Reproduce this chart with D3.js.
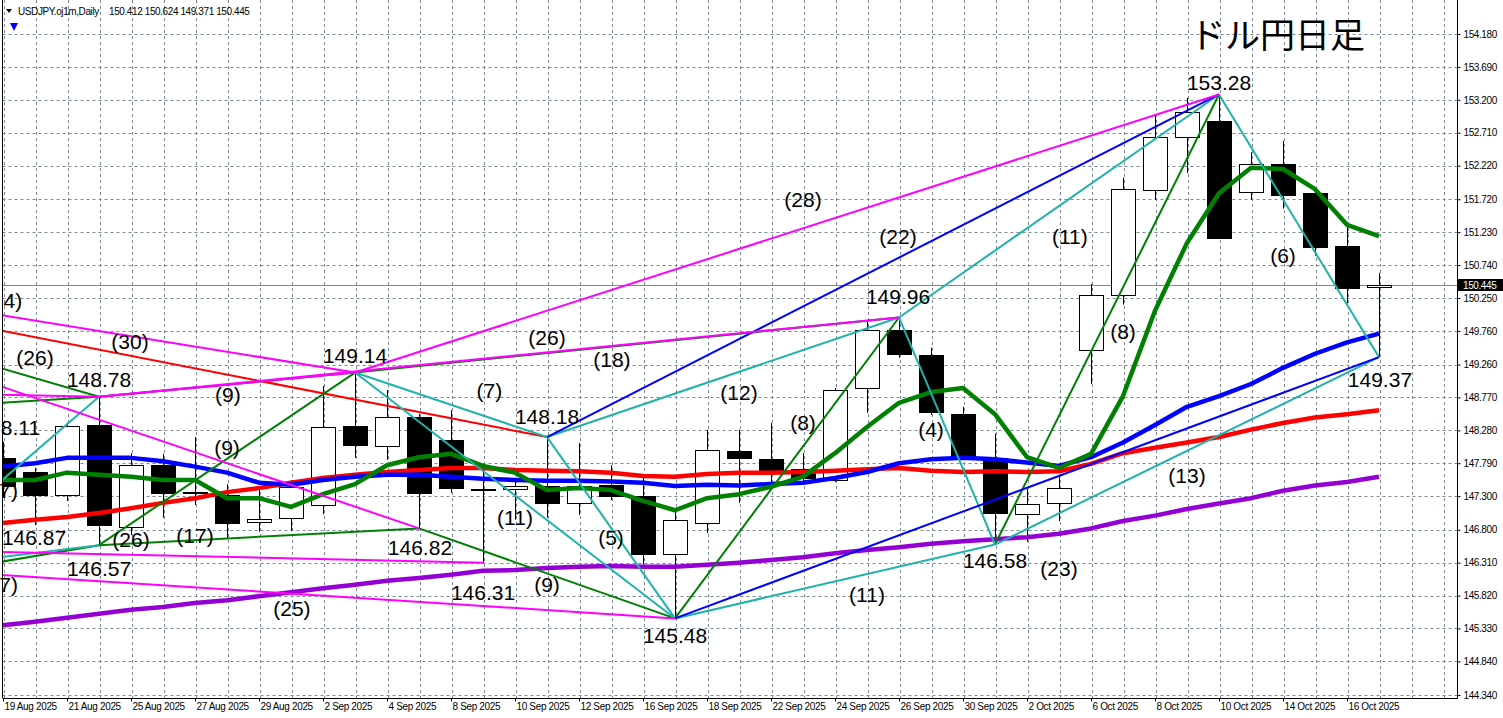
<!DOCTYPE html>
<html><head><meta charset="utf-8">
<script src="https://cdn.jsdelivr.net/npm/d3@7"></script>
<style>
html,body{margin:0;padding:0;background:#fff;overflow:hidden;}
svg{display:block;}
</style></head><body>
<svg id="c" width="1503" height="718"></svg>
<script>
// ---------- DATA ----------
const dates = ["19 Aug 2025","20 Aug 2025","21 Aug 2025","22 Aug 2025","25 Aug 2025","26 Aug 2025","27 Aug 2025","28 Aug 2025","29 Aug 2025",
"1 Sep 2025","2 Sep 2025","3 Sep 2025","4 Sep 2025","5 Sep 2025","8 Sep 2025","9 Sep 2025","10 Sep 2025","11 Sep 2025","12 Sep 2025",
"15 Sep 2025","16 Sep 2025","17 Sep 2025","18 Sep 2025","19 Sep 2025","22 Sep 2025","23 Sep 2025","24 Sep 2025","25 Sep 2025","26 Sep 2025",
"29 Sep 2025","30 Sep 2025","1 Oct 2025","2 Oct 2025","3 Oct 2025","6 Oct 2025","7 Oct 2025","8 Oct 2025","9 Oct 2025","10 Oct 2025",
"13 Oct 2025","14 Oct 2025","15 Oct 2025","16 Oct 2025","17 Oct 2025"];
const openP  = [147.87,147.66,147.32,148.36,146.83,147.76,147.35,147.32,146.92,146.98,147.17,148.34,148.05,148.48,148.14,147.41,147.41,147.45,147.20,147.47,147.30,146.44,146.90,147.97,147.85,147.70,147.54,148.90,149.77,149.40,148.52,147.87,147.04,147.19,149.48,150.30,151.86,152.65,152.89,151.83,152.25,151.82,151.03,150.412];
const highP  = [148.11,147.72,148.40,148.78,147.94,147.93,148.18,147.48,147.41,147.54,148.94,149.14,148.88,148.52,148.58,147.69,147.57,148.18,148.09,147.76,147.57,147.06,148.29,148.29,148.39,147.94,148.91,149.92,149.96,149.51,148.63,148.23,147.41,147.59,150.46,152.04,152.96,153.23,153.28,152.42,152.59,151.86,151.31,150.624];
const lowP   = [147.30,146.87,147.23,146.57,146.72,146.98,147.17,146.66,146.77,146.78,147.03,147.87,147.84,146.82,147.35,146.31,146.95,146.98,147.02,147.24,146.28,145.48,146.75,147.20,147.50,147.47,147.51,148.54,149.36,148.51,147.84,146.58,146.62,146.93,148.97,150.15,151.71,152.11,151.13,151.71,151.58,150.88,150.17,149.371];
const closeP = [147.45,147.32,148.34,146.87,147.76,147.35,147.36,146.90,146.96,147.44,148.33,148.05,148.48,147.35,147.42,147.40,147.45,147.20,147.45,147.30,146.44,146.95,147.99,147.87,147.69,147.57,148.88,149.77,149.42,148.55,147.88,147.05,147.19,147.42,150.30,151.88,152.65,153.02,151.15,152.25,151.79,151.02,150.40,150.445];

const maGreen  = [147.54,147.54,147.65,147.62,147.59,147.54,147.54,147.27,147.27,147.14,147.33,147.48,147.76,147.88,147.93,147.75,147.65,147.39,147.42,147.39,147.23,147.09,147.27,147.33,147.44,147.59,147.94,148.33,148.69,148.85,148.91,148.52,147.88,147.72,147.93,148.79,150.06,151.07,151.81,152.19,152.17,151.87,151.34,151.17];
const maBlue   = [147.74,147.79,147.87,147.87,147.87,147.82,147.74,147.65,147.50,147.47,147.54,147.59,147.62,147.62,147.59,147.56,147.54,147.53,147.53,147.52,147.50,147.45,147.47,147.46,147.48,147.50,147.57,147.66,147.79,147.85,147.87,147.85,147.80,147.75,147.88,148.10,148.36,148.63,148.79,148.97,149.21,149.42,149.59,149.72];
const maRed    = [146.90,146.95,146.99,147.05,147.12,147.20,147.27,147.36,147.42,147.50,147.57,147.62,147.66,147.69,147.72,147.72,147.69,147.68,147.67,147.65,147.60,147.59,147.63,147.65,147.65,147.66,147.68,147.70,147.72,147.68,147.66,147.67,147.66,147.67,147.78,147.94,148.02,148.10,148.18,148.29,148.39,148.47,148.52,148.58];
const maPurple = [145.38,145.43,145.49,145.55,145.61,145.65,145.71,145.75,145.81,145.87,145.93,145.98,146.04,146.08,146.13,146.19,146.20,146.23,146.25,146.26,146.25,146.25,146.28,146.31,146.35,146.39,146.45,146.50,146.54,146.59,146.63,146.66,146.69,146.74,146.82,146.93,147.01,147.11,147.19,147.27,147.38,147.46,147.51,147.59];

const priceTicks = [154.18,153.69,153.20,152.71,152.22,151.72,151.23,150.74,150.25,149.76,149.26,148.77,148.28,147.79,147.30,146.80,146.31,145.82,145.33,144.84,144.34];
const dateTickBars = [0,2,4,6,8,10,12,14,16,18,20,22,24,26,28,30,32,34,36,38,40,42];
const lastPrice = 150.445;
const headerSymbol = "USDJPY.oj1m,Daily";
const headerValues = "150.412 150.624 149.371 150.445";
const titleText = "ドル円日足";

// trend lines: [bar1, price1, bar2, price2]
const redLines = [[-0.1,149.77,17,148.18]];
const greenLines = [[-0.1,149.21,3,148.78],[-0.1,148.69,3,148.78],[-0.1,146.32,3,146.57],[3,148.78,11,149.14],[3,146.57,11,149.14],[3,146.57,13,146.82],[11,149.14,28,149.96],[13,146.82,21,145.48],[21,145.48,28,149.96],[31,146.58,38,153.28]];
const cyanLines = [[-0.1,147.51,3,148.78],[-0.1,146.39,3,146.57],[11,149.14,17,148.18],[11,149.14,21,145.48],[17,148.18,21,145.48],[17,148.18,28,149.96],[28,149.96,38,153.28],[28,149.96,31,146.58],[21,145.48,31,146.58],[31,146.58,43,149.37],[38,153.28,43,149.37]];
const blueLines = [[17,148.18,38,153.28],[21,145.48,43,149.37]];
const magentaLines = [[-0.1,150.00,11,149.14],[-0.1,148.94,13,146.82],[-0.1,148.81,3,148.78],[-0.1,146.47,15,146.31],[-0.1,146.13,21,145.48],[3,148.78,11,149.14],[3,148.78,28,149.96],[11,149.14,38,153.28]];

// annotation labels: [bar, price, text]
const annotations = [
 [1.0,149.36,"(26)"],[3.97,149.595,"(30)"],[3.0,149.03,"148.78"],
 [7.03,148.81,"(9)"],[11.0,149.40,"149.14"],[7.0,148.03,"(9)"],[0.97,146.68,"146.87"],
 [4.0,146.65,"(26)"],[6.0,146.71,"(17)"],[3.0,146.23,"146.57"],[9.03,145.635,"(25)"],
 [13.03,146.53,"146.82"],[15.0,145.86,"146.31"],[15.2,148.88,"(7)"],[17.0,148.48,"148.18"],[17.0,149.655,"(26)"],
 [19.03,149.33,"(18)"],[16.0,146.975,"(11)"],[19.0,146.68,"(5)"],[17.0,145.98,"(9)"],[21.0,145.23,"145.48"],
 [23.0,148.836,"(12)"],[25.0,148.39,"(8)"],[27.97,150.265,"149.96"],[29.0,148.285,"(4)"],[25.0,151.71,"(28)"],
 [27.97,151.17,"(22)"],[33.34,151.16,"(11)"],[38.0,153.456,"153.28"],[35.0,149.744,"(8)"],[40.0,150.89,"(6)"],
 [43.03,149.03,"149.37"],[31.0,146.34,"146.58"],[33.0,146.23,"(23)"],[37.0,147.615,"(13)"],[27.0,145.84,"(11)"]
];
// labels cut by the left edge in the original: [bar, price, visible text] (right-aligned at the bar position)
const edgeAnnotations = [[0.6,150.22,"4)"],[1.16,148.315,"8.11"],[0.47,147.39,"7)"],[0.47,145.98,"7)"]];

// ---------- CHART ----------
const W = 1503, H = 718;
const plotLeft = 2.5, plotRight = 1457, plotBottom = 698;
const x = d3.scaleLinear().domain([0, 43]).range([3, 1379]);
const y = d3.scaleLinear().domain([144.34, 154.18]).range([695, 34]);
const FONT = "'Liberation Sans', Arial, sans-serif";

const svg = d3.select('#c');
svg.append('rect').attr('width', W).attr('height', H).attr('fill', '#fff');
svg.append('defs').append('clipPath').attr('id', 'plot')
  .append('rect').attr('x', plotLeft).attr('y', 0).attr('width', plotRight - plotLeft).attr('height', plotBottom);

const g = svg.append('g').attr('clip-path', 'url(#plot)');
const gridColor = '#7c8896';

// grid
g.append('g').selectAll('line').data(priceTicks).join('line')
  .attr('x1', plotLeft).attr('x2', plotRight)
  .attr('y1', d => Math.round(y(d)) + 0.5).attr('y2', d => Math.round(y(d)) + 0.5)
  .attr('stroke', gridColor).attr('stroke-width', 1).attr('stroke-dasharray', '3,3');
g.append('g').selectAll('line').data(d3.range(0, 46)).join('line')
  .attr('x1', i => Math.round(x(i)) + 1.5).attr('x2', i => Math.round(x(i)) + 1.5)
  .attr('y1', 0).attr('y2', plotBottom)
  .attr('stroke', gridColor).attr('stroke-width', 1).attr('stroke-dasharray', '3,3');

// last price line
g.append('line').attr('x1', plotLeft).attr('x2', plotRight)
  .attr('y1', Math.round(y(lastPrice)) + 0.5).attr('y2', Math.round(y(lastPrice)) + 0.5)
  .attr('stroke', '#778899').attr('stroke-width', 1);

// candles
const bars = d3.range(dates.length);
const cg = g.append('g');
cg.selectAll('line').data(bars).join('line')
  .attr('x1', i => Math.round(x(i)) + 0.5).attr('x2', i => Math.round(x(i)) + 0.5)
  .attr('y1', i => y(highP[i])).attr('y2', i => y(lowP[i]))
  .attr('stroke', '#000').attr('stroke-width', 1);
cg.selectAll('rect').data(bars).join('rect')
  .attr('x', i => Math.round(x(i)) - 12 + 0.5).attr('width', 24)
  .attr('y', i => Math.round(y(Math.max(openP[i], closeP[i]))) + 0.5)
  .attr('height', i => Math.max(1, Math.round(Math.abs(y(openP[i]) - y(closeP[i])))))
  .attr('fill', i => closeP[i] >= openP[i] ? '#fff' : '#000')
  .attr('stroke', '#000').attr('stroke-width', 1);

// moving averages
const maLine = d3.line().x((d, i) => x(i)).y(d => y(d)).curve(d3.curveLinear);
[[maPurple, '#9400d3'], [maRed, '#ff0000'], [maBlue, '#0000ff'], [maGreen, '#008000']].forEach(([arr, col]) => {
  g.append('path').attr('d', maLine(arr)).attr('fill', 'none').attr('stroke', col)
    .attr('stroke-width', 4.5).attr('stroke-linejoin', 'round').attr('stroke-linecap', 'butt');
});

// trend lines
function drawLines(arr, col) {
  g.append('g').selectAll('line').data(arr).join('line')
    .attr('x1', d => x(d[0])).attr('y1', d => y(d[1]))
    .attr('x2', d => x(d[2])).attr('y2', d => y(d[3]))
    .attr('stroke', col).attr('stroke-width', 2);
}
drawLines(redLines, '#ff0000');
drawLines(greenLines, '#008000');
drawLines(cyanLines, '#20b2aa');
drawLines(blueLines, '#0000ff');
drawLines(magentaLines, '#ff00ff');

// annotations
g.append('g').selectAll('text').data(annotations).join('text')
  .attr('x', d => x(d[0])).attr('y', d => y(d[1]))
  .attr('text-anchor', 'middle').attr('dominant-baseline', 'central')
  .attr('font-family', FONT).attr('font-size', 21).attr('fill', '#000')
  .text(d => d[2]);
svg.append('g').selectAll('text').data(edgeAnnotations).join('text')
  .attr('x', d => x(d[0])).attr('y', d => y(d[1]))
  .attr('text-anchor', 'end').attr('dominant-baseline', 'central')
  .attr('font-family', FONT).attr('font-size', 21).attr('fill', '#000')
  .text(d => d[2]);

// frame
svg.append('line').attr('x1', plotLeft).attr('x2', plotLeft).attr('y1', 0).attr('y2', plotBottom).attr('stroke', '#000');
svg.append('line').attr('x1', plotRight + 0.5).attr('x2', plotRight + 0.5).attr('y1', 0).attr('y2', plotBottom + 0.5).attr('stroke', '#000');
svg.append('line').attr('x1', plotLeft).attr('x2', plotRight + 0.5).attr('y1', plotBottom + 0.5).attr('y2', plotBottom + 0.5).attr('stroke', '#000');

// price axis
const yAxis = d3.axisRight(y).tickValues(priceTicks).tickFormat(d => d.toFixed(3)).tickSize(3).tickPadding(3);
const ya = svg.append('g').attr('transform', `translate(${plotRight + 0.5},0)`).call(yAxis);
ya.select('.domain').remove();
ya.selectAll('text').attr('font-family', FONT).attr('font-size', 10).attr('letter-spacing', '-0.4px').attr('fill', '#000');
ya.selectAll('line').attr('stroke', '#000');

// date axis
const xAxis = d3.axisBottom(x).tickValues(dateTickBars).tickFormat(i => dates[i]).tickSize(3).tickPadding(2);
const xa = svg.append('g').attr('transform', `translate(0,${plotBottom + 0.5})`).call(xAxis);
xa.select('.domain').remove();
xa.selectAll('text').attr('font-family', FONT).attr('font-size', 10).attr('letter-spacing', '-0.35px').attr('fill', '#000')
  .attr('text-anchor', 'start').attr('x', 1).attr('dy', '0.6em');
xa.selectAll('line').attr('stroke', '#000');

// last price tag
const ly = Math.round(y(lastPrice));
svg.append('rect').attr('x', plotRight + 1).attr('y', ly - 6).attr('width', W - plotRight - 1).attr('height', 12).attr('fill', '#000');
svg.append('text').attr('x', plotRight + 6).attr('y', ly + 0.5).attr('dominant-baseline', 'central')
  .attr('font-family', FONT).attr('font-size', 10).attr('letter-spacing', '-0.4px').attr('fill', '#fff').text(lastPrice.toFixed(3));

// header
svg.append('path').attr('d', 'M6,9 L12,9 L9,13 Z').attr('fill', '#000');
svg.append('text').attr('x', 18).attr('y', 15).attr('font-family', FONT).attr('font-size', 10).attr('letter-spacing', '-0.4px').attr('fill', '#000').text(headerSymbol);
svg.append('text').attr('x', 109).attr('y', 15).attr('font-family', FONT).attr('font-size', 10).attr('letter-spacing', '-0.4px').attr('fill', '#000').text(headerValues);
svg.append('path').attr('d', 'M10,23 L18,23 L14,31 Z').attr('fill', '#0000ff');

// title
svg.append('text').attr('x', 1190).attr('y', 48).attr('font-family', "'Noto Sans CJK JP', sans-serif")
  .attr('font-size', 35).attr('fill', '#000').text(titleText);
</script>
</body></html>
